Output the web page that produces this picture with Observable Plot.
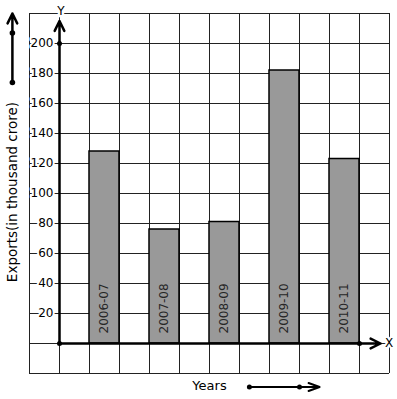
<!DOCTYPE html>
<html><head><meta charset="utf-8">
<script src="https://cdn.jsdelivr.net/npm/d3@7"></script>
<script src="https://cdn.jsdelivr.net/npm/@observablehq/plot@0.6"></script>
<style>body{margin:0;background:#fff}</style>
</head><body><div id="chart"></div>
<script>
const years = ["2006-07", "2007-08", "2008-09", "2009-10", "2010-11"];
const exportsValues = [128, 76, 81, 182, 123];
const yTickLabels = [20, 40, 60, 80, 100, 120, 140, 160, 180, 200];
const gridXValues = d3.range(-1, 12);
const gridYValues = d3.range(-20, 221, 20);
const axisLabels = ["X", "Y"];
const yTitle = "Exports(in thousand crore)";
const xTitle = "Years";

const rows = years.map((year, i) => ({year, value: exportsValues[i], x1: 1 + 2 * i, x2: 2 + 2 * i}));
const axisArrows = [{x1: 0, y1: 0, x2: 0, y2: 215}, {x1: 0, y1: 0, x2: 10.7, y2: 0}];
const axisDots = [{x: 0, y: 0}, {x: 0, y: 200}, {x: 10, y: 0}];
const sideArrow = [{x1: -1.57, y1: 174, x2: -1.57, y2: 220}];
const sideDots = [{x: -1.57, y: 174}, {x: -1.57, y: 207}];
const footArrow = [{x1: 6.33, y1: -29, x2: 8.67, y2: -29}];
const footDots = [{x: 6.33, y: -29}, {x: 8, y: -29}];

const chart = Plot.plot({
  width: 397, height: 399,
  marginLeft: 29, marginRight: 8, marginTop: 13, marginBottom: 26,
  x: {type: "linear", domain: [-1, 11], axis: null},
  y: {domain: [-20, 220], axis: null},
  style: {fontFamily: "'DejaVu Sans', sans-serif", fontSize: "12px", background: "#fff", color: "#000", overflow: "visible"},
  marks: [
    Plot.gridX(gridXValues, {stroke: "#222", strokeOpacity: 1, strokeWidth: 1}),
    Plot.gridY(gridYValues, {stroke: "#222", strokeOpacity: 1, strokeWidth: 1}),
    Plot.rectY(rows, {x1: "x1", x2: "x2", y1: 0, y2: "value", fill: "#999999", stroke: "#000", strokeWidth: 1.5}),
    Plot.text(rows, {x: d => (d.x1 + d.x2) / 2, y: 0, text: "year", rotate: -90, textAnchor: "start", dy: -10, fill: "#262626", fontSize: 12}),
    Plot.text(yTickLabels, {x: 0, y: d => d, text: d => String(d), textAnchor: "end", dx: -6, fill: "#000", stroke: "#fff", strokeWidth: 4}),
    Plot.arrow(axisArrows, {x1: "x1", y1: "y1", x2: "x2", y2: "y2", stroke: "#000", strokeWidth: 2.5, headAngle: 52, headLength: 6.6}),
    Plot.dot(axisDots, {x: "x", y: "y", r: 2.5, fill: "#000"}),
    Plot.text([axisLabels[0]], {x: 11, y: 0, text: d => d, dx: -0.5, fill: "#000", stroke: "#fff", strokeWidth: 4}),
    Plot.text([axisLabels[1]], {x: 0, y: 220, text: d => d, dx: 1.5, dy: -2, fill: "#000", stroke: "#fff", strokeWidth: 5}),
    Plot.text([yTitle], {frameAnchor: "left", textAnchor: "middle", lineAnchor: "middle", rotate: -90, dx: -17, dy: -1.5, fontSize: 13.5, fill: "#000"}),
    Plot.text([xTitle], {frameAnchor: "bottom", textAnchor: "middle", lineAnchor: "middle", dy: 12, fontSize: 13, fill: "#000"}),
    Plot.arrow(sideArrow, {x1: "x1", y1: "y1", x2: "x2", y2: "y2", stroke: "#000", strokeWidth: 2.5, headAngle: 52, headLength: 6.6}),
    Plot.dot(sideDots, {x: "x", y: "y", r: 2.8, fill: "#000"}),
    Plot.arrow(footArrow, {x1: "x1", y1: "y1", x2: "x2", y2: "y2", stroke: "#000", strokeWidth: 2, headAngle: 40, headLength: 8.8}),
    Plot.dot(footDots, {x: "x", y: "y", r: 2.5, fill: "#000"})
  ]
});
document.getElementById("chart").append(chart);
</script>
</body></html>
